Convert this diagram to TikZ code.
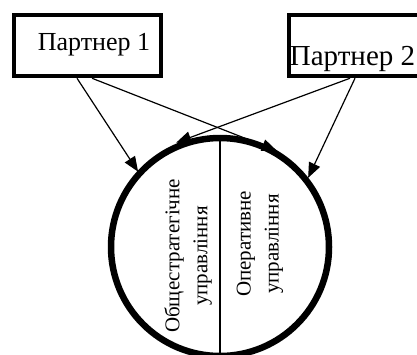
\documentclass[tikz,border=0pt]{standalone}
\usepackage{fontspec}
\setmainfont{Liberation Serif}
\usetikzlibrary{arrows.meta}
\begin{document}
\begin{tikzpicture}[x=1pt,y=-1pt,
  box/.style={draw,line width=4.5pt,inner sep=0pt,minimum width=#1,minimum height=61pt},
  conn/.style={line width=1.2pt,-{Triangle[length=15pt,width=12pt]},shorten >=-2pt},
  rot/.style={rotate=90,align=center,inner sep=0pt,font=\fontsize{21}{28}\selectfont}]
\useasboundingbox (0,0) rectangle (417,354);
\node[box=147pt] (p1) at (87.5,45.5) {};
\node[box=138pt] (p2) at (358,45.5) {};
\node[anchor=base,inner sep=0pt,font=\fontsize{26}{28}\selectfont] (t1) at (94,50) {Партнер 1};
\node[anchor=base,inner sep=0pt,font=\fontsize{29}{30}\selectfont] (t2) at (352.5,65) {Партнер 2};
\node[draw,circle,line width=6.5pt,minimum size=218pt,inner sep=0pt] (c) at (220,247) {};
\draw[line width=1.2pt] (c.north) -- (c.south);
\node[rot] (l) at (188,256) {Общестратегічне\\управління};
\node[rot] (r) at (260,244) {Оперативне\\управління};
\coordinate (a1) at (137,170);
\coordinate (a2) at (275,150);
\coordinate (a3) at (178,142);
\coordinate (a4) at (309,176);
\draw[conn] ([xshift=-10.5pt]p1.south) -- (a1);
\draw[conn] ([xshift=4.5pt]p1.south) -- (a2);
\draw[conn] ([xshift=-8pt]p2.south) -- (a3);
\draw[conn] ([xshift=-3pt]p2.south) -- (a4);
\end{tikzpicture}
\end{document}
